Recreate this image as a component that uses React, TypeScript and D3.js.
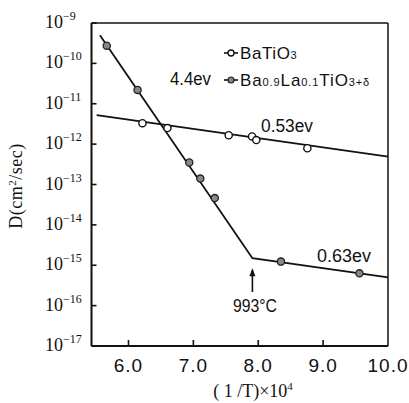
import React from "react";
import * as d3 from "d3";

// BaTiO3 measured points (open circles)
const batioX = [6.215, 6.6, 7.545, 7.905, 7.97, 8.757];
const batioD = [3.3e-12, 2.5e-12, 1.66e-12, 1.55e-12, 1.26e-12, 7.9e-13];
// BaTiO3 fit line (0.53 eV)
const batioFitX = [5.51, 10.0];
const batioFitD = [5.2e-12, 4.9e-13];

// Ba0.9La0.1TiO3+δ measured points (filled circles)
const laX = [5.665, 6.14, 6.937, 7.107, 7.33, 8.35, 9.56];
const laD = [2.75e-10, 2.2e-11, 3.5e-13, 1.4e-13, 4.6e-14, 1.23e-15, 6.3e-16];
// La-doped fit line (4.4 eV then 0.63 eV)
const laFitX = [5.56, 7.91, 10.0];
const laFitD = [5.0e-10, 1.5e-15, 5.0e-16];

const xTicks = [6, 7, 8, 9, 10];
const xTickLabels = ["6.0", "7.0", "8.0", "9.0", "10.0"];
const yExps = [-9, -10, -11, -12, -13, -14, -15, -16, -17];

const W = 409;
const H = 403;

export default function App() {
  const x = d3.scaleLinear().domain([5.43, 10.0]).range([91.5, 388]);
  const y = d3.scaleLog().domain([1e-17, 1e-9]).range([346, 23]);
  const [x0, x1] = x.range();
  const [yb, yt] = y.range();

  const line = d3
    .line<[number, number]>()
    .x((d) => x(d[0]))
    .y((d) => y(d[1]));

  const batioFit = batioFitX.map((v, i) => [v, batioFitD[i]] as [number, number]);
  const laFit = laFitX.map((v, i) => [v, laFitD[i]] as [number, number]);

  const sans = "'Liberation Sans', Arial, sans-serif";
  const serif = "'Liberation Serif', 'Times New Roman', serif";

  const knee = [laFitX[1], laFitD[1]];

  return (
    <svg
      width={W}
      height={H}
      style={{ position: "absolute", left: 0, top: 0, background: "#fff" }}
    >
      <rect x={0} y={0} width={W} height={H} fill="#fff" />
      {/* frame */}
      <line x1={x0} x2={x1} y1={yt} y2={yt} stroke="#111" strokeWidth={1.5} />
      <line x1={x1} x2={x1} y1={yt} y2={yb} stroke="#111" strokeWidth={1.5} />
      <line x1={x0} x2={x0} y1={yt} y2={yb} stroke="#111" strokeWidth={2} />
      <line x1={x0} x2={x1} y1={yb} y2={yb} stroke="#111" strokeWidth={2} />

      {/* y ticks */}
      {yExps.map((e) => {
        const yy = y(Math.pow(10, e));
        return (
          <g key={e}>
            <line x1={x0} x2={x0 + 5} y1={yy} y2={yy} stroke="#111" strokeWidth={1.6} />
            <text x={45} y={yy + 5} fontFamily={serif} fontSize={18} fill="#111">
              10
              <tspan dy={-8} fontSize={12}>
                {"\u2212" + Math.abs(e)}
              </tspan>
            </text>
          </g>
        );
      })}

      {/* x ticks */}
      {xTicks.map((t, i) => {
        const xx = x(t);
        return (
          <g key={t}>
            {t < 10 && (
              <line x1={xx} x2={xx} y1={yb} y2={yb - 6} stroke="#111" strokeWidth={1.6} />
            )}
            <text
              x={xx}
              y={372}
              textAnchor="middle"
              fontFamily={sans}
              fontSize={19}
              letterSpacing={1}
              fill="#111"
            >
              {xTickLabels[i]}
            </text>
          </g>
        );
      })}

      {/* axis titles */}
      <text
        x={253}
        y={397}
        textAnchor="middle"
        fontFamily={serif}
        fontSize={18}
        fill="#111"
      >
        ( 1 /T)×10
        <tspan dy={-7} fontSize={11}>
          4
        </tspan>
      </text>
      <text
        transform="translate(22,186) rotate(-90)"
        textAnchor="middle"
        fontFamily={serif}
        fontSize={18}
        letterSpacing={0.5}
        fill="#111"
      >
        D(cm
        <tspan dy={-6} fontSize={11}>
          2
        </tspan>
        <tspan dy={6}>/sec)</tspan>
      </text>

      {/* fit lines */}
      <path d={line(batioFit) || ""} fill="none" stroke="#111" strokeWidth={1.8} />
      <path d={line(laFit) || ""} fill="none" stroke="#111" strokeWidth={1.8} />

      {/* points */}
      {batioX.map((v, i) => (
        <circle
          key={"b" + i}
          cx={x(v)}
          cy={y(batioD[i])}
          r={3.6}
          fill="#fff"
          stroke="#111"
          strokeWidth={1.4}
        />
      ))}
      {laX.map((v, i) => (
        <circle
          key={"l" + i}
          cx={x(v)}
          cy={y(laD[i])}
          r={3.6}
          fill="#888"
          stroke="#222"
          strokeWidth={1.3}
        />
      ))}

      {/* annotations */}
      <text x={170} y={85} fontFamily={sans} fontSize={18} textLength={41} lengthAdjust="spacingAndGlyphs" fill="#111">
        4.4ev
      </text>
      <text x={261} y={132} fontFamily={sans} fontSize={18} textLength={52} lengthAdjust="spacingAndGlyphs" fill="#111">
        0.53ev
      </text>
      <text x={317} y={262} fontFamily={sans} fontSize={18} textLength={54} lengthAdjust="spacingAndGlyphs" fill="#111">
        0.63ev
      </text>
      <text x={233} y={312} fontFamily={sans} fontSize={18} textLength={44} lengthAdjust="spacingAndGlyphs" fill="#111">
        993°C
      </text>
      {/* arrow to knee */}
      <line
        x1={x(knee[0])}
        x2={x(knee[0])}
        y1={292}
        y2={y(knee[1]) + 12}
        stroke="#111"
        strokeWidth={1.6}
      />
      <path
        d={`M${x(knee[0]) - 3},${y(knee[1]) + 18} L${x(knee[0])},${y(knee[1]) + 10} L${x(knee[0]) + 3},${y(knee[1]) + 18} Z`}
        fill="#111"
      />

      {/* legend */}
      <line x1={224} x2={238} y1={53} y2={53} stroke="#111" strokeWidth={1.6} />
      <circle cx={231} cy={53} r={3} fill="#fff" stroke="#111" strokeWidth={1.3} />
      <text x={240} y={59} fontFamily={sans} fontSize={17} fill="#111" letterSpacing={0.6}>
        BaTiO
        <tspan fontSize={11}>3</tspan>
      </text>
      <line x1={224} x2={238} y1={80} y2={80} stroke="#111" strokeWidth={1.6} />
      <circle cx={231} cy={80} r={3} fill="#888" stroke="#222" strokeWidth={1.2} />
      <text x={240} y={86} fontFamily={sans} fontSize={17} fill="#111" letterSpacing={0.9}>
        Ba
        <tspan fontSize={11}>0.9</tspan>
        La
        <tspan fontSize={11}>0.1</tspan>
        TiO
        <tspan fontSize={11}>3+δ</tspan>
      </text>
    </svg>
  );
}
